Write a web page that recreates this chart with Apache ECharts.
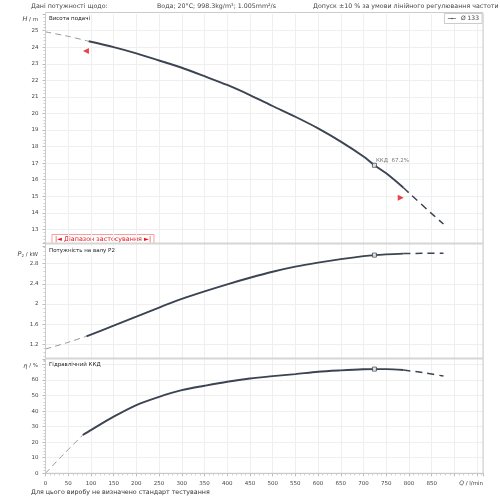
<!DOCTYPE html>
<html lang="uk">
<head>
<meta charset="UTF-8">
<title>Pump curve</title>
<script src="https://cdn.jsdelivr.net/npm/echarts@6/dist/echarts.min.js"></script>
<style>
  html, body { margin: 0; padding: 0; background: #fff; }
  #main { width: 500px; height: 500px; }
</style>
</head>
<body>
<div id="main"></div>
<script>
// flow Q, l/min — head H, m
const qHeadStart = [0, 50, 95];
const headStart = [24.93, 24.66, 24.36];
const qHead = [95, 150, 200, 250, 300, 350, 400, 450, 500, 550, 600, 650, 700, 724, 750, 788];
const head = [24.36, 24.01, 23.63, 23.2, 22.76, 22.25, 21.72, 21.11, 20.45, 19.8, 19.1, 18.3, 17.4, 16.87, 16.38, 15.51];
const qHeadEnd = [788, 800, 850, 876];
const headEnd = [15.51, 15.2, 13.95, 13.32];

// shaft power P2, kW
const qPowStart = [0, 50, 90];
const powStart = [1.107, 1.24, 1.36];
const qPow = [90, 150, 200, 250, 300, 350, 400, 450, 500, 550, 600, 650, 700, 724, 788];
const pow = [1.36, 1.57, 1.75, 1.93, 2.1, 2.25, 2.39, 2.52, 2.64, 2.74, 2.82, 2.89, 2.95, 2.97, 3.0];
const qPowEnd = [788, 830, 876];
const powEnd = [3.0, 3.005, 3.005];

// hydraulic efficiency, %
const qEffStart = [0, 40, 82];
const effStart = [0, 12.3, 24.6];
const qEff = [82, 100, 150, 200, 250, 300, 350, 400, 450, 500, 550, 600, 650, 700, 724, 750, 788];
const eff = [24.6, 27.8, 36.4, 43.9, 49.2, 53.5, 56.3, 58.9, 61, 62.5, 63.8, 65.3, 66.2, 66.9, 67.0, 67.0, 66.4];
const qEffEnd = [788, 830, 876];
const effEnd = [66.4, 64.8, 62.5];

// best efficiency point
const bepQ = 724;
const bepH = 16.87;
const bepP = 2.97;
const bepEff = 67.0;
const bepLabel = 'ККД  67.2%';

// application range limits
const limitQ = [89, 782];
const limitH = [23.77, 14.9];

const pairs = (xs, ys) => xs.map((x, i) => [x, ys[i]]);

const dark = '#3b4451';
const font = 'DejaVu Sans';
const txt = '#444';

const chart = echarts.init(document.getElementById('main'));

function xAxisFor(gi, showLabels) {
  return {
    type: 'value', gridIndex: gi, min: 0, max: 963, interval: 50,
    axisLine: { show: showLabels, lineStyle: { color: '#bbb' } },
    axisTick: { show: showLabels, length: 3, lineStyle: { color: '#bbb' } },
    minorTick: { show: showLabels, splitNumber: 5, length: 2, lineStyle: { color: '#ccc' } },
    axisLabel: {
      show: showLabels, fontSize: 5.5, color: txt, fontFamily: font, margin: 7,
      formatter: v => (v <= 850 ? String(v) : '')
    },
    splitLine: { show: true, lineStyle: { color: '#efefef' } }
  };
}

function yAxisFor(gi, min, max, interval, lo, hi) {
  return {
    type: 'value', gridIndex: gi, min: min, max: max, interval: interval,
    axisLine: { show: true, lineStyle: { color: '#ccc' } },
    axisTick: { show: true, length: 3, lineStyle: { color: '#bbb' } },
    minorTick: { show: true, splitNumber: 5, length: 2, lineStyle: { color: '#ccc' } },
    axisLabel: {
      fontSize: 5.5, color: txt, fontFamily: font, margin: 7,
      formatter: v => (v >= lo - 1e-6 && v <= hi + 1e-6 ? String(+v.toFixed(1)) : '')
    },
    splitLine: { show: true, showMinLine: false, showMaxLine: false, lineStyle: { color: '#efefef' } }
  };
}

function curve(name, xi, xs, ys, style) {
  return {
    name: name, type: 'line', xAxisIndex: xi, yAxisIndex: xi,
    data: pairs(xs, ys), smooth: 0.3, symbol: 'none', silent: true,
    lineStyle: style, itemStyle: { color: style.color }
  };
}

const solid = { color: dark, width: 1.9 };
const dashLeft = { color: '#9a9a9a', width: 1, type: [6, 4] };
const dashRight = { color: dark, width: 1.5, type: [7, 5] };

function bep(xi, q, v, withLabel) {
  return {
    type: 'scatter', xAxisIndex: xi, yAxisIndex: xi, silent: true,
    data: [[q, v]], symbol: 'rect', symbolSize: 4, z: 5,
    itemStyle: { color: '#fff', borderColor: dark, borderWidth: 1 },
    label: {
      show: withLabel, position: 'right', distance: 0, offset: [-1, -5],
      formatter: bepLabel, fontSize: 5.5, color: '#555', fontFamily: font
    }
  };
}

function panelText(x, y, text) {
  return {
    type: 'text', x: x, y: y, z: 12,
    style: { text: text, fontSize: 5.5, fill: '#222', fontFamily: font, backgroundColor: '#fff', padding: [1, 1, 1, 1] }
  };
}

function axisName(x, y, text) {
  return {
    type: 'text', x: x, y: y,
    style: {
      text: text, fontSize: 5.5, fill: txt, fontFamily: font, align: 'right', verticalAlign: 'middle',
      rich: {
        i: { fontStyle: 'italic', fontSize: 6.5, fill: txt, fontFamily: font },
        s: { fontSize: 4, fill: txt, fontFamily: font, verticalAlign: 'bottom', padding: [3, 0, 0, 0] }
      }
    }
  };
}

const option = {
  backgroundColor: '#fff',
  animation: false,
  grid: [
    { left: 45.5, top: 14.15, width: 437.5, height: 231.7, outerBoundsMode: 'none' },
    { left: 45.5, top: 243.5, width: 437.5, height: 121, outerBoundsMode: 'none' },
    { left: 45.5, top: 359, width: 437.5, height: 114.3, outerBoundsMode: 'none' }
  ],
  xAxis: [xAxisFor(0, false), xAxisFor(1, false), xAxisFor(2, true)],
  yAxis: [
    yAxisFor(0, 12, 26, 1, 13, 25),
    yAxisFor(1, 0.8, 3.2, 0.4, 1.2, 2.8),
    yAxisFor(2, 0, 73.5, 10, 0, 60)
  ],
  legend: {
    data: ['Ø 133'], right: 18, top: 13.5, orient: 'vertical',
    itemWidth: 8, itemHeight: 2, itemGap: 2, padding: [2, 3, 2, 3],
    borderColor: '#ccc', borderWidth: 1, backgroundColor: '#fff',
    lineStyle: { width: 1, color: '#888' },
    textStyle: { fontSize: 6, color: txt, fontFamily: font }
  },
  series: [
    curve('start', 0, qHeadStart, headStart, dashLeft),
    curve('Ø 133', 0, qHead, head, solid),
    curve('end', 0, qHeadEnd, headEnd, dashRight),
    bep(0, bepQ, bepH, true),
    {
      type: 'scatter', xAxisIndex: 0, yAxisIndex: 0, silent: true, z: 6,
      symbol: 'triangle', symbolSize: [6, 6],
      itemStyle: { color: '#e8131b' },
      data: [
        { value: [limitQ[0], limitH[0]], symbolRotate: 90 },
        { value: [limitQ[1], limitH[1]], symbolRotate: -90 }
      ]
    },
    curve('pstart', 1, qPowStart, powStart, dashLeft),
    curve('p', 1, qPow, pow, solid),
    curve('pend', 1, qPowEnd, powEnd, dashRight),
    bep(1, bepQ, bepP, false),
    curve('estart', 2, qEffStart, effStart, dashLeft),
    curve('e', 2, qEff, eff, solid),
    curve('eend', 2, qEffEnd, effEnd, dashRight),
    bep(2, bepQ, bepEff, false)
  ],
  graphic: [
    // panel frames
    { type: 'rect', shape: { x: 45.5, y: 12.5, width: 437.5, height: 231 }, style: { fill: null, stroke: '#ccc', lineWidth: 1 }, z: 10, silent: true },
    { type: 'rect', shape: { x: 45.5, y: 243.5, width: 437.5, height: 115 }, style: { fill: null, stroke: '#ccc', lineWidth: 1 }, z: 10, silent: true },
    { type: 'rect', shape: { x: 45.5, y: 358.5, width: 437.5, height: 114.8 }, style: { fill: null, stroke: '#ccc', lineWidth: 1 }, z: 10, silent: true },
    { type: 'line', shape: { x1: 45.5, y1: 243.5, x2: 483, y2: 243.5 }, style: { stroke: '#d6d6d6', lineWidth: 2 }, z: 10, silent: true },
    { type: 'line', shape: { x1: 45.5, y1: 358.5, x2: 483, y2: 358.5 }, style: { stroke: '#d6d6d6', lineWidth: 2 }, z: 10, silent: true },
    // header
    { type: 'text', x: 31, y: 3, style: { text: 'Дані потужності щодо:', fontSize: 6.3, fill: txt, fontFamily: font } },
    { type: 'text', x: 157, y: 3, style: { text: 'Вода; 20°C; 998.3kg/m³; 1.005mm²/s', fontSize: 6.3, fill: txt, fontFamily: font } },
    { type: 'text', x: 313, y: 3, style: { text: 'Допуск ±10 % за умови лінійного регулювання частоти', fontSize: 6.3, fill: txt, fontFamily: font } },
    // panel titles
    panelText(48, 14.5, 'Висота подачі'),
    panelText(48, 246.5, 'Потужність на валу P2'),
    panelText(48, 360.5, 'Гідравлічний ККД'),
    // axis names
    axisName(38, 19.5, '{i|H} / m'),
    axisName(38, 254.5, '{i|P}{s|2} / kW'),
    axisName(38, 366, '{i|η} / %'),
    {
      type: 'text', x: 483, y: 483.5,
      style: {
        text: '{i|Q} / l/min', fontSize: 5.5, fill: txt, fontFamily: font, align: 'right', verticalAlign: 'middle',
        rich: { i: { fontStyle: 'italic', fontSize: 6, fill: txt, fontFamily: font } }
      }
    },
    // application range box
    {
      type: 'group', x: 52, y: 234.5, z: 11,
      children: [
        { type: 'rect', shape: { x: 0, y: 0, width: 102, height: 9 }, style: { fill: '#fff', stroke: '#f3a0a0', lineWidth: 1 } },
        {
          type: 'text', x: 51, y: 4.8,
          style: { text: '|◄ Діапазон застосування ►|', fontSize: 6.4, fill: '#e8131b', fontFamily: font, align: 'center', verticalAlign: 'middle' }
        }
      ]
    },
    // footer
    { type: 'text', x: 31, y: 489, style: { text: 'Для цього виробу не визначено стандарт тестування', fontSize: 6.3, fill: '#333', fontFamily: font } }
  ]
};

chart.setOption(option);
</script>
</body>
</html>
